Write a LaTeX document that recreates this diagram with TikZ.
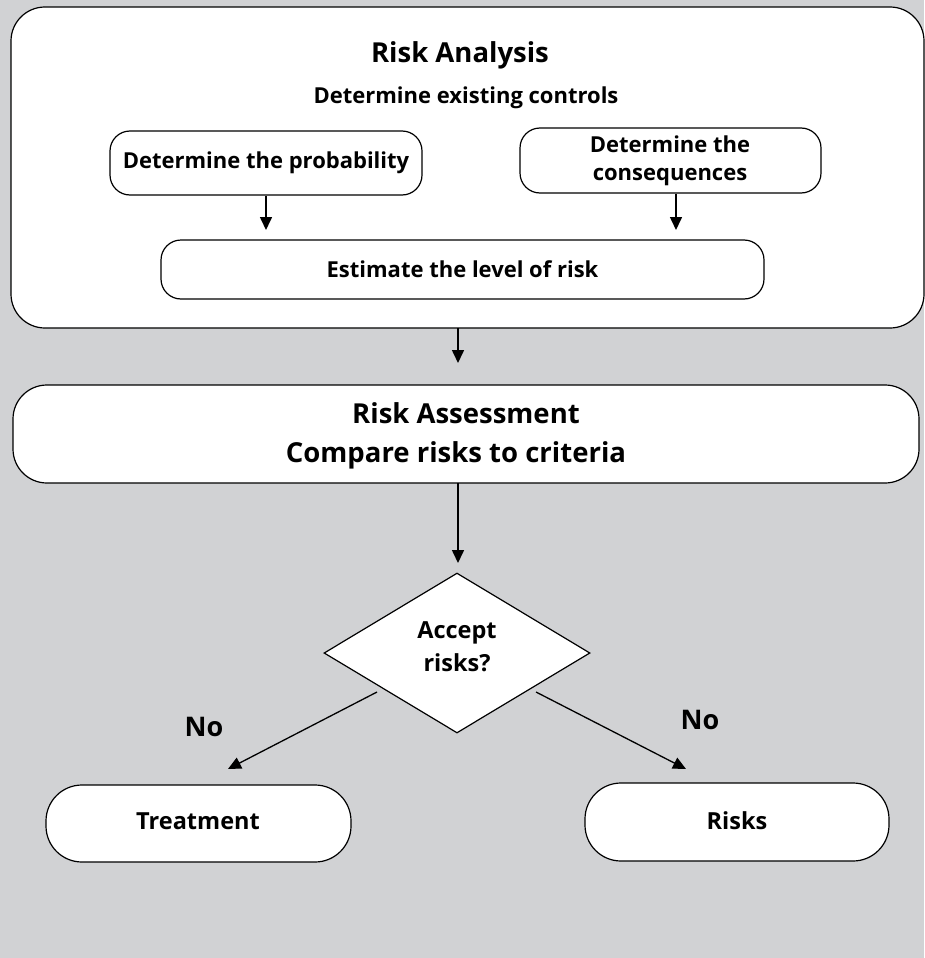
\documentclass[tikz,border=0pt]{standalone}
\usepackage{fontspec}
\setmainfont{Open Sans}
\usetikzlibrary{shapes.geometric,arrows.meta}
\definecolor{bggray}{HTML}{D1D2D4}
\begin{document}
\begin{tikzpicture}[x=1pt,y=-1pt,
  box/.style={draw=black,fill=white,line width=1.2pt,rounded corners=#1,inner sep=0pt,align=center,font=\bfseries},
  box/.default=20pt,
  conn/.style={line width=1.6pt,-{Triangle[length=13pt,width=12pt]}},
  txt/.style={font=\bfseries,inner sep=0pt,align=center}]
\fill[bggray] (0,0) rectangle (924,958);
\useasboundingbox (0,0) rectangle (924,958);
% Risk analysis container
\node[box=34pt,minimum width=913pt,minimum height=321pt] (ra) at (467.5,167.5) {};
\node[txt,font=\bfseries\fontsize{27.5}{32}\selectfont] (ratitle) at (460,55) {Risk Analysis};
\node[txt,font=\bfseries\fontsize{22}{26}\selectfont] (ractrl) at (466,98) {Determine existing controls};
\node[box,minimum width=312pt,minimum height=64pt,font=\bfseries\fontsize{22}{26}\selectfont] (prob) at (266,163) {Determine the probability};
\node[box,minimum width=301pt,minimum height=65pt] (cons) at (670.5,160.5) {};
\node[txt,font=\bfseries\fontsize{22}{28}\selectfont] (constext) at (670,161) {Determine the\\consequences};
\node[box,minimum width=603pt,minimum height=59pt,font=\bfseries\fontsize{22}{26}\selectfont] (est) at (462.5,269.5) {Estimate the level of risk};
\coordinate (pa) at (266,230);
\coordinate (ca) at (676,230);
\draw[conn] (prob.south -| pa) -- (pa);
\draw[conn] (cons.south -| ca) -- (ca);
% Risk assessment
\node[box=34pt,minimum width=906pt,minimum height=98pt] (rass) at (466,434) {};
\node[txt,font=\bfseries\fontsize{27.5}{32}\selectfont] (rasst1) at (466,413) {Risk Assessment};
\node[txt,font=\bfseries\fontsize{27.5}{32}\selectfont] (rasst2) at (456,455) {Compare risks to criteria};
\coordinate (rasin) at (458,363);
\draw[conn] (458,328) -- (rasin);
% decision
\node[diamond,draw=black,fill=white,line width=1.2pt,minimum width=266pt,minimum height=160pt,inner sep=0pt,aspect=1.66] (dec) at (457,653) {};
\node[txt,font=\bfseries\fontsize{23.5}{33}\selectfont] (dectext) at (457,647) {Accept\\risks?};
\coordinate (decin) at (458,563);
\draw[conn] (458,483) -- (decin);
% outcomes
\node[box=36pt,minimum width=305pt,minimum height=77pt] (treat) at (198.5,823.5) {};
\node[txt,font=\bfseries\fontsize{23.5}{28}\selectfont] (treattext) at (198,821) {Treatment};
\node[box=36pt,minimum width=304pt,minimum height=78pt] (risks) at (737,822) {};
\node[txt,font=\bfseries\fontsize{23.5}{28}\selectfont] (riskstext) at (737,821) {Risks};
\coordinate (tl) at (377,692);
\coordinate (tr) at (536,692);
\coordinate (ta) at (228,769);
\coordinate (ra2) at (686,769);
\draw[line width=1.3pt,-{Triangle[length=13pt,width=12pt]}] (tl) -- (ta);
\draw[line width=1.3pt,-{Triangle[length=13pt,width=12pt]}] (tr) -- (ra2);
\node[txt,font=\bfseries\fontsize{27}{30}\selectfont] (nol) at (204,727) {No};
\node[txt,font=\bfseries\fontsize{27}{30}\selectfont] (nor) at (700,720) {No};
\end{tikzpicture}
\end{document}
